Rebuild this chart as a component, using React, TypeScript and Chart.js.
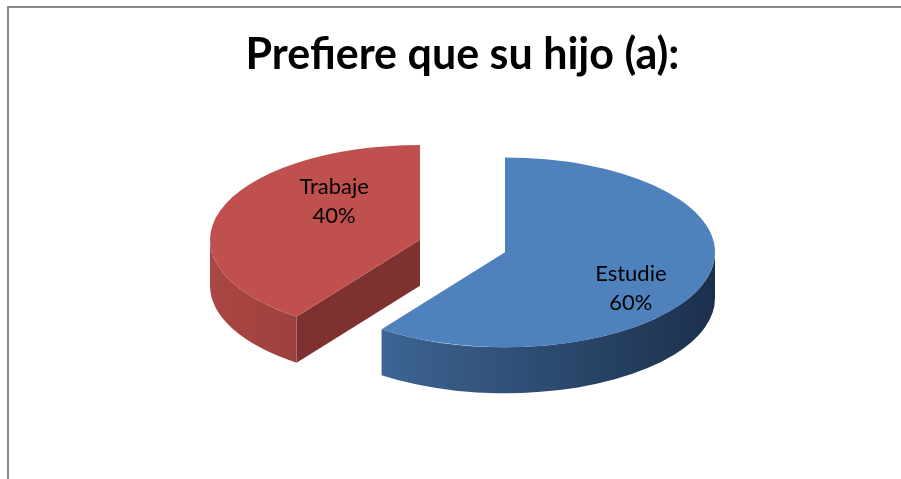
import { useEffect, useRef } from "react";
import { Chart, registerables } from "chart.js";

Chart.register(...registerables);

// ---- data ----
const titleText = "Prefiere que su hijo (a):";
const categories = ["Estudie", "Trabaje"];
const values = [60, 40];

// ---- style ----
const topColors = ["#4F81BD", "#C0504D"];
const wallLight = ["#4672A6", "#AA4643"];
const wallDark = ["#1C304C", "#6E2A29"];
const radialWallColors = ["#2A4570", "#7E3230"];
const FLAT = 0.452; // vertical squash of the pie
const DEPTH = 46; // thickness of the pie in px
const EXPLODE = 44.7; // explosion distance (px, in pie plane)
const LABEL_FRACTION = 0.6;
const labelNudge = [
  [6, 18],
  [34, -21],
];
const labelFont = "22px Lato";
const labelLineGap = 29;

const pie3d = {
  id: "pie3d",
  afterDatasetsUpdate(chart: any) {
    const meta = chart.getDatasetMeta(0);
    meta.data.forEach((arc: any) => {
      const mid = (arc.startAngle + arc.endAngle) / 2;
      arc.x += EXPLODE * Math.cos(mid);
      arc.y += EXPLODE * Math.sin(mid);
    });
  },
  beforeDatasetsDraw(chart: any) {
    const ctx: CanvasRenderingContext2D = chart.ctx;
    const area = chart.chartArea;
    const cy0 = (area.top + area.bottom) / 2;
    const fy = (y: number) => cy0 + (y - cy0) * FLAT;
    const meta = chart.getDatasetMeta(0);
    ctx.save();
    meta.data.forEach((arc: any, i: number) => {
      const { x, y, startAngle, endAngle, outerRadius } = arc;
      const cx = x;
      const cy = fy(y);
      const rx = outerRadius;
      const ry = outerRadius * FLAT;
      const pt = (a: number) => [cx + rx * Math.cos(a), cy + ry * Math.sin(a)];
      // radial walls facing the viewer
      const walls: number[] = [];
      if (Math.cos(startAngle) < -1e-6) walls.push(startAngle);
      if (Math.cos(endAngle) > 1e-6) walls.push(endAngle);
      walls.forEach((a) => {
        const p = pt(a);
        ctx.beginPath();
        ctx.moveTo(cx, cy);
        ctx.lineTo(p[0], p[1]);
        ctx.lineTo(p[0], p[1] + DEPTH);
        ctx.lineTo(cx, cy + DEPTH);
        ctx.closePath();
        ctx.fillStyle = radialWallColors[i];
        ctx.fill();
      });
      // curved outer wall (front half only)
      const grad = ctx.createLinearGradient(cx - rx, 0, cx + rx, 0);
      grad.addColorStop(0, wallLight[i]);
      grad.addColorStop(1, wallDark[i]);
      for (let n = -1; n <= 1; n++) {
        const a1 = Math.max(startAngle, 2 * Math.PI * n);
        const a2 = Math.min(endAngle, Math.PI + 2 * Math.PI * n);
        if (a2 <= a1) continue;
        ctx.beginPath();
        ctx.ellipse(cx, cy, rx, ry, 0, a1, a2, false);
        ctx.ellipse(cx, cy + DEPTH, rx, ry, 0, a2, a1, true);
        ctx.closePath();
        ctx.fillStyle = grad;
        ctx.fill();
      }
    });
    ctx.restore();
    // squash the top surfaces drawn by Chart.js
    ctx.save();
    ctx.translate(0, cy0);
    ctx.scale(1, FLAT);
    ctx.translate(0, -cy0);
  },
  afterDatasetsDraw(chart: any) {
    const ctx: CanvasRenderingContext2D = chart.ctx;
    ctx.restore();
    const area = chart.chartArea;
    const cy0 = (area.top + area.bottom) / 2;
    const fy = (y: number) => cy0 + (y - cy0) * FLAT;
    const meta = chart.getDatasetMeta(0);
    const total = values.reduce((s, v) => s + v, 0);
    ctx.save();
    ctx.font = labelFont;
    ctx.fillStyle = "#000";
    ctx.textAlign = "center";
    ctx.textBaseline = "middle";
    meta.data.forEach((arc: any, i: number) => {
      const mid = (arc.startAngle + arc.endAngle) / 2;
      const r = arc.outerRadius * LABEL_FRACTION;
      const lx = arc.x + r * Math.cos(mid) + labelNudge[i][0];
      const ly = fy(arc.y + r * Math.sin(mid)) + labelNudge[i][1];
      const pct = Math.round((values[i] / total) * 100) + "%";
      ctx.fillText(categories[i], lx, ly - labelLineGap / 2);
      ctx.fillText(pct, lx, ly + labelLineGap / 2);
    });
    ctx.restore();
  },
};

export default function App() {
  const ref = useRef<HTMLCanvasElement | null>(null);
  useEffect(() => {
    if (!ref.current) return;
    const chart = new Chart(ref.current, {
      type: "pie",
      data: {
        labels: categories,
        datasets: [
          {
            data: values,
            backgroundColor: topColors,
            borderWidth: 0,
            radius: 210,
            clip: false,
          } as any,
        ],
      },
      options: {
        responsive: false,
        animation: false,
        events: [],
        layout: { padding: { left: 24, right: 0, top: 0, bottom: 85 } },
        plugins: {
          legend: { display: false },
          tooltip: { enabled: false },
          title: {
            display: true,
            text: titleText,
            color: "#000",
            font: { family: "Lato", size: 43, weight: "bold" },
            padding: { top: 29, bottom: 17.6 },
          },
        },
      },
      plugins: [pie3d],
    });
    return () => chart.destroy();
  }, []);
  return (
    <div style={{ position: "fixed", left: 0, top: 0, width: 901, height: 479, background: "#fff" }}>
      <canvas ref={ref} width={901} height={479} style={{ position: "absolute", left: 0, top: 0 }} />
      <div
        style={{
          position: "absolute",
          left: 7,
          top: 6,
          width: 894,
          height: 473,
          borderLeft: "2px solid #8a8a8a",
          borderTop: "2px solid #8a8a8a",
          pointerEvents: "none",
        }}
      />
    </div>
  );
}
